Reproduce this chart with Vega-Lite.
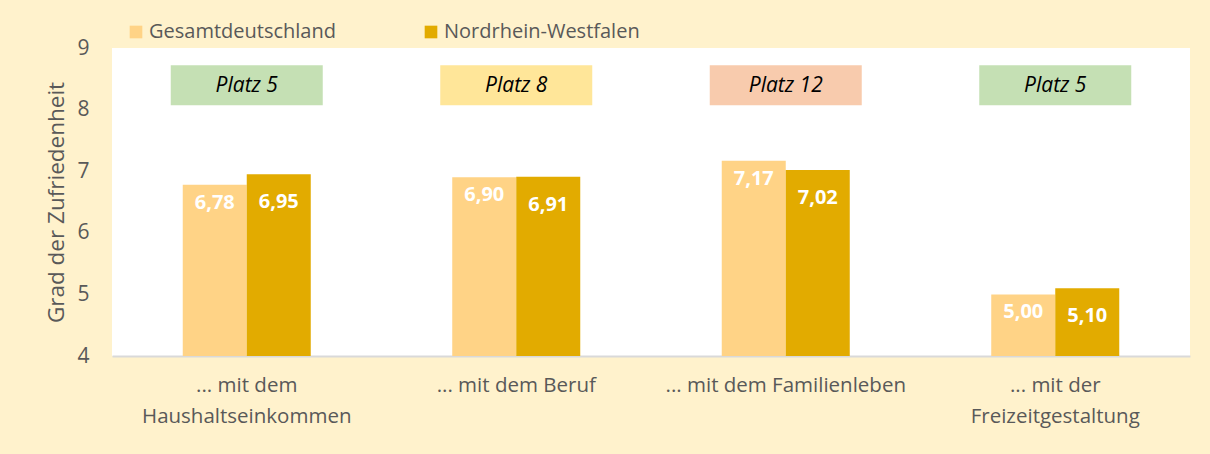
{
  "$schema": "https://vega.github.io/schema/vega-lite/v6.json",
  "width": 1078,
  "height": 308,
  "autosize": {"type": "none"},
  "padding": {"left": 112, "top": 48, "right": 20, "bottom": 98},
  "background": "#FFF2CC",
  "config": {
    "view": {"fill": "white", "stroke": null},
    "font": "Open Sans",
    "locale": {"number": {"decimal": ",", "thousands": ".", "grouping": [3], "currency": ["", " €"]}}
  },
  "data": {
    "values": [
      {"kategorie": "... mit dem|Haushaltseinkommen", "reihe": "Gesamtdeutschland", "wert": 6.78, "platz": "Platz 5", "bewertung": "gut"},
      {"kategorie": "... mit dem|Haushaltseinkommen", "reihe": "Nordrhein-Westfalen", "wert": 6.95, "platz": "Platz 5", "bewertung": "gut"},
      {"kategorie": "... mit dem Beruf", "reihe": "Gesamtdeutschland", "wert": 6.90, "platz": "Platz 8", "bewertung": "mittel"},
      {"kategorie": "... mit dem Beruf", "reihe": "Nordrhein-Westfalen", "wert": 6.91, "platz": "Platz 8", "bewertung": "mittel"},
      {"kategorie": "... mit dem Familienleben", "reihe": "Gesamtdeutschland", "wert": 7.17, "platz": "Platz 12", "bewertung": "schlecht"},
      {"kategorie": "... mit dem Familienleben", "reihe": "Nordrhein-Westfalen", "wert": 7.02, "platz": "Platz 12", "bewertung": "schlecht"},
      {"kategorie": "... mit der|Freizeitgestaltung", "reihe": "Gesamtdeutschland", "wert": 5.00, "platz": "Platz 5", "bewertung": "gut"},
      {"kategorie": "... mit der|Freizeitgestaltung", "reihe": "Nordrhein-Westfalen", "wert": 5.10, "platz": "Platz 5", "bewertung": "gut"}
    ]
  },
  "encoding": {
    "x": {
      "field": "kategorie",
      "type": "nominal",
      "sort": null,
      "scale": {"paddingInner": 0.525, "paddingOuter": 0.2625},
      "axis": {
        "title": null,
        "labelExpr": "split(datum.label, '|')",
        "labelAngle": 0,
        "labelLimit": 0,
        "domainColor": "#D9D9D9",
        "domainWidth": 2,
        "ticks": false,
        "labelFontSize": 20.5,
        "labelColor": "#595959",
        "labelPadding": 19,
        "labelLineHeight": 31
      }
    }
  },
  "layer": [
    {
      "mark": {"type": "bar"},
      "encoding": {
        "xOffset": {"field": "reihe", "type": "nominal", "scale": {"paddingInner": 0, "paddingOuter": 0}},
        "y": {
          "field": "wert",
          "type": "quantitative",
          "scale": {"domain": [4, 9], "nice": false, "zero": false},
          "axis": {
            "title": "Grad der Zufriedenheit",
            "values": [4, 5, 6, 7, 8, 9],
            "format": "d",
            "domain": false,
            "ticks": false,
            "grid": false,
            "labelFontSize": 21,
            "labelColor": "#595959",
            "labelPadding": 23,
            "titleFontSize": 22.5,
            "titleFontWeight": "normal",
            "titleColor": "#595959",
            "titleX": -49,
            "titleBaseline": "alphabetic"
          }
        },
        "y2": {"datum": 4},
        "color": {
          "field": "reihe",
          "type": "nominal",
          "scale": {"domain": ["Gesamtdeutschland", "Nordrhein-Westfalen"], "range": ["#FFD386", "#E2AB00"]},
          "legend": {
            "title": null,
            "orient": "none",
            "legendX": 14,
            "legendY": -26,
            "direction": "horizontal",
            "symbolType": "square",
            "symbolSize": 160,
            "symbolStrokeWidth": 0,
            "labelFontSize": 20,
            "labelLimit": 0,
            "labelColor": "#595959",
            "labelOffset": 3,
            "columnPadding": 85,
            "padding": 0
          }
        }
      }
    },
    {
      "transform": [{"filter": "datum.reihe === 'Nordrhein-Westfalen'"}],
      "mark": {"type": "bar", "width": 152},
      "encoding": {
        "y": {"datum": 8.07, "type": "quantitative"},
        "y2": {"datum": 8.72},
        "fill": {
          "field": "bewertung",
          "type": "nominal",
          "scale": {"domain": ["gut", "mittel", "schlecht"], "range": ["#C5E0B4", "#FFE699", "#F8CBAD"]},
          "legend": null
        }
      }
    },
    {
      "transform": [{"filter": "datum.reihe === 'Nordrhein-Westfalen'"}],
      "mark": {"type": "text", "fontStyle": "italic", "fontSize": 21, "color": "#000000", "baseline": "middle"},
      "encoding": {
        "y": {"datum": 8.38, "type": "quantitative"},
        "text": {"field": "platz"}
      }
    },
    {
      "transform": [{"filter": "datum.reihe === 'Gesamtdeutschland'"}],
      "mark": {"type": "text", "fontWeight": "bold", "fontSize": 20, "color": "white", "baseline": "middle", "dy": 18},
      "encoding": {
        "xOffset": {"field": "reihe", "type": "nominal"},
        "y": {"field": "wert", "type": "quantitative"},
        "text": {"field": "wert", "type": "quantitative", "format": ".2f"}
      }
    },
    {
      "transform": [{"filter": "datum.reihe === 'Nordrhein-Westfalen'"}],
      "mark": {"type": "text", "fontWeight": "bold", "fontSize": 20, "color": "white", "baseline": "middle", "dy": 28},
      "encoding": {
        "xOffset": {"field": "reihe", "type": "nominal"},
        "y": {"field": "wert", "type": "quantitative"},
        "text": {"field": "wert", "type": "quantitative", "format": ".2f"}
      }
    }
  ]
}
